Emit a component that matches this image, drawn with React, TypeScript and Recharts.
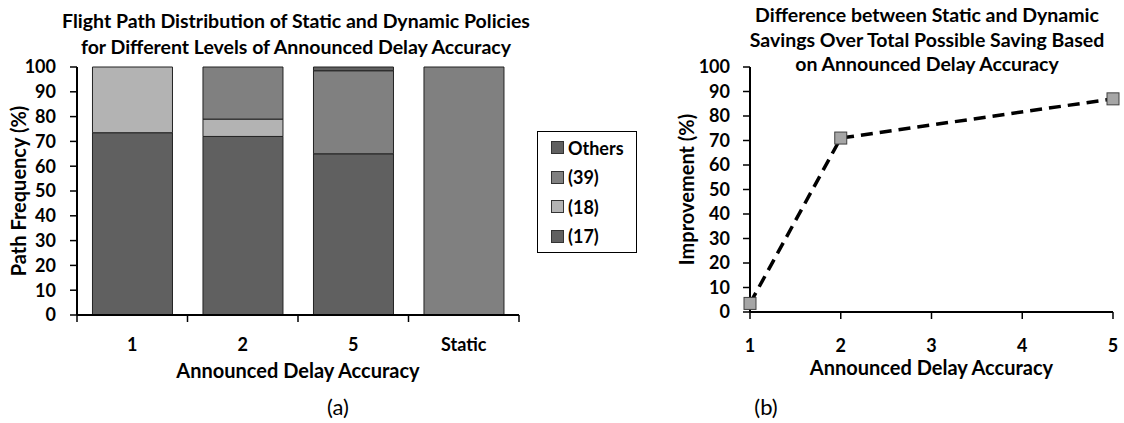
import React from 'react';
import { BarChart, Bar, XAxis, YAxis, LineChart, Line, Legend } from 'recharts';

// panel (a): stacked path frequencies per announced delay accuracy
const categories = ['1', '2', '5', 'Static'];
const path17 = [73.5, 72, 65, 0];
const path18 = [26.5, 7, 0, 0];
const path39 = [0, 21, 33.5, 100];
const others = [0, 0, 1.5, 0];

// panel (b): improvement vs accuracy
const accuracy = [1, 2, 5];
const improvement = [3.5, 71, 87];
const accuracyTicks = [1, 2, 3, 4, 5];
const percentTicks = [0, 10, 20, 30, 40, 50, 60, 70, 80, 90, 100];

const FONT = 'Lato, "Open Sans", sans-serif';

const barData = categories.map((c, i) => ({
  cat: c,
  p17: path17[i],
  p18: path18[i],
  p39: path39[i],
  others: others[i],
}));

const lineData = accuracy.map((a, i) => ({ acc: a, imp: improvement[i] }));

const tickStyle = { fill: '#000', fontFamily: FONT, fontWeight: 700, fontSize: 18 };
const labelStyle = { fill: '#000', fontFamily: FONT, fontWeight: 700, fontSize: 20 };

function CategoryTick(props: any) {
  const { x, y, payload } = props;
  const off = payload && payload.offset ? payload.offset : 55;
  const isLast = payload && payload.value === categories[categories.length - 1];
  return (
    <g>
      <line x1={x - off} x2={x - off} y1={y} y2={y + 7} stroke="#000" strokeWidth={1.5} />
      {isLast && <line x1={x + off} x2={x + off} y1={y} y2={y + 7} stroke="#000" strokeWidth={1.5} />}
      <text x={x} y={y + 23} dy="0.71em" textAnchor="middle" style={tickStyle}>
        {payload.value}
      </text>
    </g>
  );
}

function SquareDot(props: any) {
  const { cx, cy } = props;
  if (cx == null || cy == null) return null;
  return <rect x={cx - 6} y={cy - 6} width={12} height={12} fill="#a6a6a6" stroke="#404040" strokeWidth={1} />;
}

function BoxLegend(props: any) {
  const items = [...(props.payload || [])].reverse();
  return (
    <div
      style={{
        border: '1px solid #000',
        width: 100,
        padding: '1px 0 1px 13px',
        boxSizing: 'border-box',
        fontFamily: FONT,
        fontWeight: 700,
        fontSize: 18,
        background: '#fff',
      }}
    >
      {items.map((it: any) => (
        <div key={it.value} style={{ display: 'flex', alignItems: 'center', height: 29.5 }}>
          <span
            style={{
              display: 'inline-block',
              width: 11,
              height: 11,
              background: it.color,
              border: '1px solid #333',
              marginRight: 4,
            }}
          />
          <span>{it.value}</span>
        </div>
      ))}
    </div>
  );
}

export default function App() {
  return (
    <div style={{ position: 'absolute', left: 0, top: 0, width: 1124, height: 423, background: '#fff' }}>
      <div
        style={{
          position: 'absolute',
          left: 0,
          top: 8,
          width: 592,
          textAlign: 'center',
          fontFamily: FONT,
          fontWeight: 700,
          fontSize: 19.5,
          lineHeight: '26px',
        }}
      >
        Flight Path Distribution of Static and Dynamic Policies
        <br />
        for Different Levels of Announced Delay Accuracy
      </div>
      <div
        style={{
          position: 'absolute',
          left: 677,
          top: 3,
          width: 500,
          textAlign: 'center',
          fontFamily: FONT,
          fontWeight: 700,
          fontSize: 19.5,
          lineHeight: '24.5px',
        }}
      >
        Difference between Static and Dynamic
        <br />
        Savings Over Total Possible Saving Based
        <br />
        on Announced Delay Accuracy
      </div>

      <div style={{ position: 'absolute', left: 0, top: 0 }}>
        <BarChart
          width={640}
          height={423}
          data={barData}
          margin={{ top: 67, right: 121, bottom: 78, left: 0 }}
          barCategoryGap="14%"
        >
          <XAxis
            dataKey="cat"
            height={30}
            tickLine={false}
            tickSize={0}
            tickMargin={0}
            interval={0}
            tick={<CategoryTick />}
            axisLine={{ stroke: '#000', strokeWidth: 2 }}
            label={{ value: 'Announced Delay Accuracy', position: 'bottom', offset: 19, style: labelStyle }}
          />
          <YAxis
            width={77}
            domain={[0, 100]}
            ticks={percentTicks}
            interval={0}
            tickSize={7}
            tickMargin={14}
            tick={tickStyle}
            tickLine={{ stroke: '#000', strokeWidth: 1.5 }}
            axisLine={{ stroke: '#000', strokeWidth: 2 }}
            label={{
              value: 'Path Frequency (%)',
              angle: -90,
              position: 'insideLeft',
              offset: 19,
              style: { ...labelStyle, textAnchor: 'middle' },
            }}
          />
          <Legend
            layout="vertical"
            align="center"
            verticalAlign="middle"
            wrapperStyle={{ left: 537, top: 131, width: 100 }}
            content={<BoxLegend />}
          />
          <Bar dataKey="p17" name="(17)" stackId="s" fill="#606060" stroke="#222" strokeWidth={1} isAnimationActive={false} />
          <Bar dataKey="p18" name="(18)" stackId="s" fill="#b3b3b3" stroke="#222" strokeWidth={1} isAnimationActive={false} />
          <Bar dataKey="p39" name="(39)" stackId="s" fill="#808080" stroke="#222" strokeWidth={1} isAnimationActive={false} />
          <Bar dataKey="others" name="Others" stackId="s" fill="#606060" stroke="#222" strokeWidth={1} isAnimationActive={false} />
        </BarChart>
      </div>

      <div style={{ position: 'absolute', left: 640, top: 0 }}>
        <LineChart width={484} height={423} data={lineData} margin={{ top: 67, right: 11, bottom: 81, left: 0 }}>
          <XAxis
            dataKey="acc"
            type="number"
            domain={[1, 5]}
            ticks={accuracyTicks}
            interval={0}
            height={30}
            tickSize={7}
            tickMargin={20}
            tick={tickStyle}
            tickLine={{ stroke: '#000', strokeWidth: 1.5 }}
            axisLine={{ stroke: '#000', strokeWidth: 2 }}
            label={{ value: 'Announced Delay Accuracy', position: 'bottom', offset: 19, style: labelStyle }}
          />
          <YAxis
            width={110}
            domain={[0, 100]}
            ticks={percentTicks}
            interval={0}
            tickSize={7}
            tickMargin={13}
            tick={tickStyle}
            tickLine={{ stroke: '#000', strokeWidth: 1.5 }}
            axisLine={{ stroke: '#000', strokeWidth: 2 }}
            label={{
              value: 'Improvement (%)',
              angle: -90,
              position: 'insideLeft',
              offset: 47,
              style: { ...labelStyle, textAnchor: 'middle' },
            }}
          />
          <Line
            type="linear"
            dataKey="imp"
            stroke="#000"
            strokeWidth={3.5}
            strokeDasharray="12 7"
            dot={<SquareDot />}
            isAnimationActive={false}
          />
        </LineChart>
      </div>

      <div
        style={{
          position: 'absolute',
          left: 288,
          top: 393,
          width: 100,
          textAlign: 'center',
          fontFamily: FONT,
          fontSize: 22,
        }}
      >
        (a)
      </div>
      <div
        style={{
          position: 'absolute',
          left: 716,
          top: 393,
          width: 100,
          textAlign: 'center',
          fontFamily: FONT,
          fontSize: 22,
        }}
      >
        (b)
      </div>
    </div>
  );
}
